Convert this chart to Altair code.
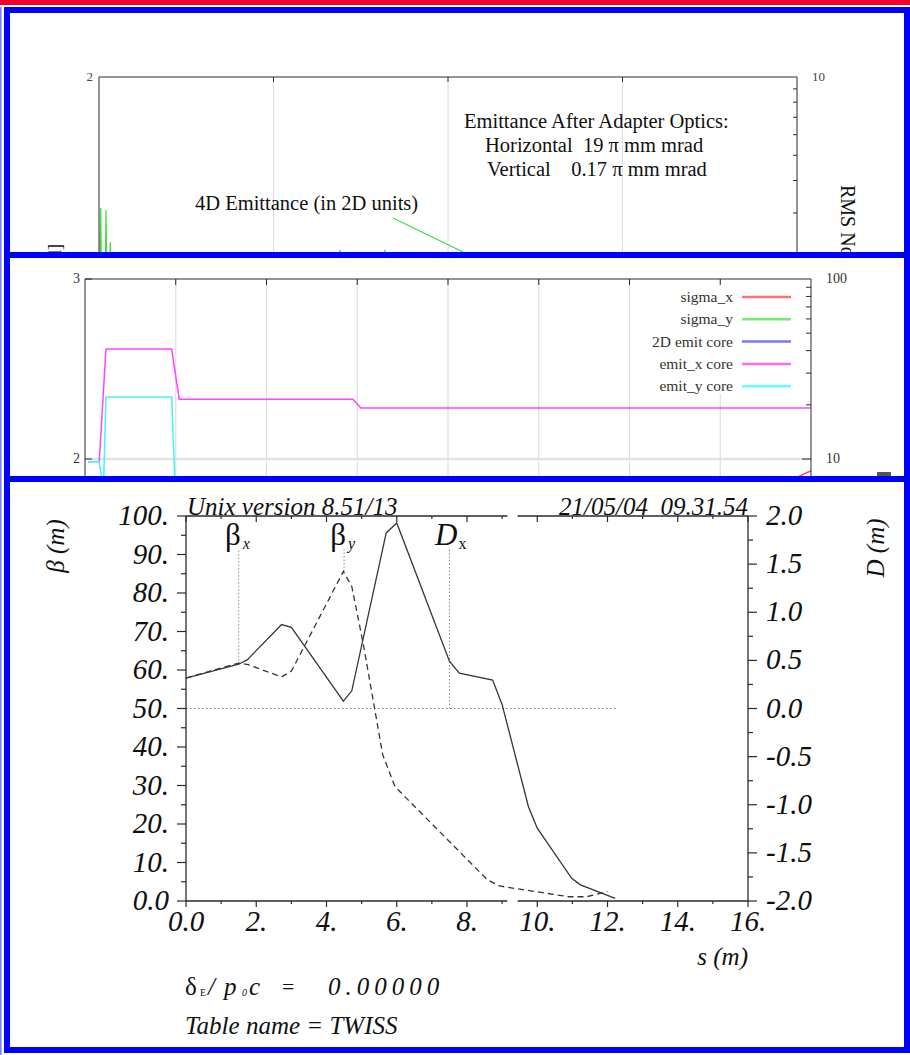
import altair as alt
import pandas as pd

# ======================= chart values =======================
# --- bottom panel: MAD twiss plot ---
S_BETX = [0.0, 1.5, 1.75, 2.72, 3.0, 4.48, 4.72, 5.7, 6.0, 7.5, 7.78, 8.73, 9.0, 9.75, 10.0, 10.98, 11.23, 12.22]
BETX = [57.9, 61.5, 62.7, 71.8, 71.1, 51.9, 54.6, 95.6, 98.2, 62.3, 59.2, 57.4, 51.0, 24.5, 18.9, 5.9, 4.2, 0.7]
S_BETY = [0.0, 1.5, 1.77, 2.72, 3.0, 4.48, 4.72, 5.05, 5.6, 5.95, 8.58, 8.92, 10.9, 11.4, 12.0]
BETY = [57.9, 61.8, 61.4, 58.2, 59.7, 85.6, 81.7, 66.6, 38.0, 29.7, 5.5, 3.9, 1.1, 1.1, 2.5]
S_DX = [0.0, 12.25]
DX = [0.0, 0.0]
MARK_MAIN = ["β", "β", "D"]
MARK_SUB = ["x", "y", "x"]
MARK_S = [1.5, 4.5, 7.5]
MARK_LOW = [61.5, 85.6, 50.0]
MARK_TOP = [91.5, 91.5, 91.5]
S_MAJOR = [0, 2, 4, 6, 8, 10, 12, 14, 16]
S_LABELS = ["0.0", "2.", "4.", "6.", "8.", "10.", "12.", "14.", "16."]
S_MINOR = [1, 3, 5, 7, 9, 11, 13, 15]
FRAME_FROM = [0.0, 9.44]
FRAME_TO = [9.15, 16.0]
BETA_MAJOR = [0, 10, 20, 30, 40, 50, 60, 70, 80, 90, 100]
BETA_LABELS = ["0.0", "10.", "20.", "30.", "40.", "50.", "60.", "70.", "80.", "90.", "100."]
BETA_MINOR = [5, 15, 25, 35, 45, 55, 65, 75, 85, 95]
D_MAJOR = [-2.0, -1.5, -1.0, -0.5, 0.0, 0.5, 1.0, 1.5, 2.0]
D_LABELS = ["-2.0", "-1.5", "-1.0", "-0.5", "0.0", "0.5", "1.0", "1.5", "2.0"]
D_MINOR = [-1.75, -1.25, -0.75, -0.25, 0.25, 0.75, 1.25, 1.75]

# --- middle panel: emittance / sigma plot ---
P2_GRID = [1, 2, 3, 4, 5, 6, 7]
P2_LEFT_LABELS_V = [2, 3]
P2_LEFT_LABELS = ["2", "3"]
P2_RIGHT_LABELS_V = [10, 100]
P2_RIGHT_LABELS = ["10", "100"]
P2_RIGHT_MINOR = [20, 30, 40, 50, 60, 70, 80, 90]
S_EMITX = [0.033, 0.157, 0.231, 0.955, 1.038, 2.952, 3.04, 8.0]
EMITX = [9.66, 9.7, 40.8, 40.8, 21.5, 21.5, 19.2, 19.2]
S_EMITY = [0.033, 0.154, 0.204, 0.231, 0.955, 1.113, 8.0]
EMITY = [9.66, 9.66, 7.0, 22.1, 22.1, 0.17, 0.17]
S_SIGX = [7.5, 7.879, 8.0]
SIGX = [1.80, 1.906, 1.935]
LEGEND_NAMES = ["sigma_x", "sigma_y", "2D emit core", "emit_x core", "emit_y core"]
LEGEND_COLORS = ["#ff7070", "#70ee70", "#7878ff", "#ff66ff", "#66ffff"]

# --- top panel: 4D emittance plot ---
P1_GRID = [1, 2, 3]
P1_RIGHT_MINOR = [3, 4, 5, 6, 7, 8, 9]
S_EMIT4D = [0.003, 0.0097, 0.0143, 0.036, 0.040, 0.0447, 0.0607, 0.0648, 0.0688,
            1.370, 1.381, 1.393, 1.628, 1.639, 1.650, 4.0]
EMIT4D = [0.9, 1.272, 0.9, 0.9, 1.261, 0.9, 0.9, 1.083, 0.9,
          0.9, 1.04, 0.9, 0.9, 1.04, 0.9, 0.9]
ARROW_FROM = (1.685, 1.217)
ARROW_TO = (2.086, 1.028)

# ======================= styles / layout =======================
SERIF = "Liberation Serif"
INK = "#101010"
AX = "#2a2a2a"
LINE = "#363636"
BLUE = "#0000ff"
RED = "#f2002e"
PLOT_COL = {"sigma_x": "#ff4d4d", "emit_x core": "#ff44ff", "emit_y core": "#44f4f4"}

X1 = alt.Scale(domain=[0, 4], range=[99, 797], nice=False, zero=False)
Y1 = alt.Scale(domain=[0, 2], range=[437, 77], nice=False, zero=False)
Y1R = alt.Scale(type="log", domain=[1, 10], range=[337, 77], nice=False)
X2 = alt.Scale(domain=[0, 8], range=[85, 811], nice=False, zero=False)
Y2 = alt.Scale(domain=[2, 3], range=[459, 279], nice=False, zero=False)
Y2R = alt.Scale(type="log", domain=[10, 100], range=[459, 279], nice=False)
X3 = alt.Scale(domain=[0, 16], range=[186, 748], nice=False, zero=False)
Y3 = alt.Scale(domain=[0, 100], range=[901, 516], nice=False, zero=False)
Y3R = alt.Scale(domain=[-2, 2], range=[901, 516], nice=False, zero=False)


def one():
    return pd.DataFrame({"k": [0]})


def props(**kw):
    return {k: v for k, v in kw.items() if v is not None}


def text_at(txt, x, y, size, align="left", baseline="middle", italic=False,
            angle=None, color=INK):
    p = props(align=align, baseline=baseline, fontSize=size, font=SERIF, color=color,
              fontStyle="italic" if italic else None, angle=angle)
    return alt.Chart(pd.DataFrame({"t": [txt]})).mark_text(**p).encode(
        x=alt.value(x), y=alt.value(y), text="t:N")


def seg(x0, y0, x1, y1, color=AX, width=1.0, dash=None):
    p = props(color=color, strokeWidth=width, strokeDash=dash)
    return alt.Chart(one()).mark_rule(**p).encode(
        x=alt.value(x0), y=alt.value(y0), x2=alt.value(x1), y2=alt.value(y1))


def box(x0, y0, x1, y1, color):
    return alt.Chart(one()).mark_rect(color=color).encode(
        x=alt.value(x0), x2=alt.value(x1), y=alt.value(y0), y2=alt.value(y1))


def vrules(vals, sx, y0, y1, color=AX, width=1.0, dash=None):
    p = props(color=color, strokeWidth=width, strokeDash=dash)
    return alt.Chart(pd.DataFrame({"v": vals})).mark_rule(**p).encode(
        x=alt.X("v:Q", scale=sx, axis=None), y=alt.value(y0), y2=alt.value(y1))


def hrules(vals, sy, x0, x1, color=AX, width=1.0, dash=None):
    p = props(color=color, strokeWidth=width, strokeDash=dash)
    return alt.Chart(pd.DataFrame({"v": vals})).mark_rule(**p).encode(
        y=alt.Y("v:Q", scale=sy, axis=None), x=alt.value(x0), x2=alt.value(x1))


def ylabels(vals, labels, sy, x, align, size, italic=False, color=INK):
    p = props(align=align, baseline="middle", fontSize=size, font=SERIF, color=color,
              fontStyle="italic" if italic else None)
    return alt.Chart(pd.DataFrame({"v": vals, "t": labels})).mark_text(**p).encode(
        y=alt.Y("v:Q", scale=sy, axis=None), x=alt.value(x), text="t:N")


def xlabels(vals, labels, sx, y, size, italic=False, color=INK):
    p = props(align="center", baseline="middle", fontSize=size, font=SERIF, color=color,
              fontStyle="italic" if italic else None)
    return alt.Chart(pd.DataFrame({"v": vals, "t": labels})).mark_text(**p).encode(
        x=alt.X("v:Q", scale=sx, axis=None), y=alt.value(y), text="t:N")


def series(xs, ys, sx, sy, color, width=1.3, dash=None):
    p = props(color=color, strokeWidth=width, strokeDash=dash)
    d = pd.DataFrame({"s": xs, "v": ys, "i": list(range(len(xs)))})
    return alt.Chart(d).mark_line(**p).encode(
        x=alt.X("s:Q", scale=sx, axis=None), y=alt.Y("v:Q", scale=sy, axis=None),
        order=alt.Order("i:Q"))


layers = []

# ======================= top panel =======================
layers += [
    vrules(P1_GRID, X1, 77, 260, color="#dcdcdc", width=1),
    vrules(P1_GRID, X1, 77, 82, color=AX),
    series(S_EMIT4D, EMIT4D, X1, Y1, "#3fdc3f", width=1.2),
    alt.Chart(one()).mark_rule(color="#3fdc3f", strokeWidth=1.2).encode(
        x=alt.datum(ARROW_FROM[0], scale=X1, axis=None),
        y=alt.datum(ARROW_FROM[1], scale=Y1, axis=None),
        x2=alt.datum(ARROW_TO[0]), y2=alt.datum(ARROW_TO[1])),
    seg(99, 77, 797, 77), seg(99, 77, 99, 260), seg(797, 77, 797, 260),
    hrules(P1_RIGHT_MINOR, Y1R, 793, 797),
    text_at("2", 93, 77, 13, align="right", color="#444"),
    text_at("10", 812, 77, 13, color="#444"),
    text_at("Emittance After Adapter Optics:", 464, 122, 20.5),
    text_at("Horizontal\u00a0\u00a019 π mm mrad", 485, 146, 20.5),
    text_at("Vertical\u00a0\u00a0\u00a0\u00a00.17 π mm mrad", 487, 170, 20.5),
    text_at("4D Emittance (in 2D units)", 195, 204, 20.5),
    text_at("RMS Normalized Emittance", 847, 185, 20, angle=90),
    text_at("Emittance [mm mrad]", 55, 244, 19, align="right", angle=270),
]

# ======================= middle panel =======================
layers += [
    box(10, 258, 904, 476, "white"),
    vrules(P2_GRID, X2, 279, 480, color="#dedede", width=1.2),
    hrules([2], Y2, 85, 811, color="#e2e2e2", width=2.5),
    box(640, 284, 805, 394, "white"),
    series(S_SIGX, SIGX, X2, Y2, PLOT_COL["sigma_x"], width=1.5),
    series(S_EMITX, EMITX, X2, Y2R, PLOT_COL["emit_x core"], width=1.5),
    series(S_EMITY, EMITY, X2, Y2R, PLOT_COL["emit_y core"], width=1.5),
    vrules(P2_GRID, X2, 279, 285, color=AX),
    seg(85, 279, 811, 279), seg(85, 279, 85, 480), seg(811, 279, 811, 480),
    hrules([2, 3], Y2, 85, 92),
    hrules(P2_RIGHT_MINOR, Y2R, 806, 811),
    hrules([10], Y2R, 802, 811),
    ylabels(P2_LEFT_LABELS_V, P2_LEFT_LABELS, Y2, 80, "right", 14, color="#333"),
    ylabels(P2_RIGHT_LABELS_V, P2_RIGHT_LABELS, Y2R, 826, "left", 14, color="#333"),
    box(877, 472, 891, 476, "#555"),
]
for i, (name, colr) in enumerate(zip(LEGEND_NAMES, LEGEND_COLORS)):
    yy = 297 + i * 22.3
    layers += [seg(742, yy, 791, yy, color=colr, width=2.5),
               text_at(name, 733, yy, 15.5, align="right", color="#333")]

# ======================= bottom panel =======================
layers += [
    box(10, 482, 904, 1047, "white"),
    series(S_DX, DX, X3, Y3R, "#7a7a7a", width=1, dash=[1.5, 2.5]),
    alt.Chart(pd.DataFrame({"s": MARK_S, "lo": MARK_LOW, "hi": MARK_TOP})).mark_rule(
        color="#8a8a8a", strokeWidth=1, strokeDash=[1.5, 2]).encode(
        x=alt.X("s:Q", scale=X3, axis=None),
        y=alt.Y("lo:Q", scale=Y3, axis=None), y2="hi:Q"),
    series(S_BETY, BETY, X3, Y3, LINE, width=1.3, dash=[6, 4]),
    series(S_BETX, BETX, X3, Y3, LINE, width=1.3),
    # frame with the broken top / bottom lines
    alt.Chart(pd.DataFrame({"a": FRAME_FROM, "b": FRAME_TO})).mark_rule(
        color=AX, strokeWidth=1.3).encode(
        x=alt.X("a:Q", scale=X3, axis=None), x2="b:Q", y=alt.value(516)),
    alt.Chart(pd.DataFrame({"a": FRAME_FROM, "b": FRAME_TO})).mark_rule(
        color=AX, strokeWidth=1.3).encode(
        x=alt.X("a:Q", scale=X3, axis=None), x2="b:Q", y=alt.value(901)),
    seg(186, 516, 186, 901, width=1.3), seg(748, 516, 748, 901, width=1.3),
    # ticks
    hrules(BETA_MAJOR, Y3, 177, 186, width=1.2),
    hrules(BETA_MINOR, Y3, 181, 186, width=1.2),
    hrules(D_MAJOR, Y3R, 748, 757, width=1.2),
    hrules(D_MINOR, Y3R, 748, 753, width=1.2),
    vrules(S_MAJOR, X3, 901, 907, width=1.2),
    vrules(S_MINOR, X3, 901, 904, width=1.2),
    vrules(S_MAJOR, X3, 516, 522, width=1.2),
    vrules(S_MINOR, X3, 516, 519, width=1.2),
    # tick labels
    ylabels(BETA_MAJOR, BETA_LABELS, Y3, 169, "right", 29, italic=True),
    ylabels(D_MAJOR, D_LABELS, Y3R, 766, "left", 29, italic=True),
    xlabels(S_MAJOR, S_LABELS, X3, 922, 29, italic=True),
    # marker labels
    alt.Chart(pd.DataFrame({"s": MARK_S[:2], "t": MARK_MAIN[:2]})).mark_text(
        align="right", baseline="alphabetic", fontSize=31, font=SERIF, color=INK, dx=2).encode(
        x=alt.X("s:Q", scale=X3, axis=None), y=alt.value(545), text="t:N"),
    alt.Chart(pd.DataFrame({"s": MARK_S[2:], "t": MARK_MAIN[2:]})).mark_text(
        align="right", baseline="alphabetic", fontSize=31, font=SERIF, fontStyle="italic",
        color=INK, dx=8).encode(
        x=alt.X("s:Q", scale=X3, axis=None), y=alt.value(545), text="t:N"),
    alt.Chart(pd.DataFrame({"s": MARK_S[:2], "t": MARK_SUB[:2]})).mark_text(
        align="left", baseline="alphabetic", fontSize=16, font=SERIF, fontStyle="italic",
        color=INK, dx=4).encode(
        x=alt.X("s:Q", scale=X3, axis=None), y=alt.value(549), text="t:N"),
    alt.Chart(pd.DataFrame({"s": MARK_S[2:], "t": MARK_SUB[2:]})).mark_text(
        align="left", baseline="alphabetic", fontSize=16, font=SERIF, color=INK, dx=9).encode(
        x=alt.X("s:Q", scale=X3, axis=None), y=alt.value(549), text="t:N"),
    # texts
    text_at("Unix version 8.51/13", 187, 515, 25, baseline="alphabetic", italic=True),
    text_at("21/05/04\u00a0\u00a009.31.54", 748, 515, 25, align="right",
            baseline="alphabetic", italic=True),
    text_at("β  (m)", 56, 546, 25, align="center", italic=True, angle=270),
    text_at("D  (m)", 876, 548, 25, align="center", italic=True, angle=270),
    text_at("s (m)", 748, 957, 25, align="right", italic=True),
    text_at("δ", 185, 987, 25),
    text_at("E", 200, 993, 10),
    text_at("/", 208, 987, 25, italic=True),
    text_at("p", 224, 987, 25, italic=True),
    text_at("0", 242, 993, 10, italic=True),
    text_at("c", 249, 987, 25, italic=True),
    text_at("=", 282, 987, 22),
    text_at("0\u2009.\u20090\u20090\u20090\u20090\u20090", 328, 987, 25, italic=True),
    text_at("Table name = TWISS", 185, 1026, 25, italic=True),
]

# ======================= window frames =======================
layers += [
    box(0, 0, 910, 5, RED),
    box(0, 7, 1.6, 1055, "#7d7dff"),
    box(4, 7, 10, 1053, BLUE),
    box(904, 7, 910, 1053, BLUE),
    box(4, 7, 910, 13, BLUE),
    box(4, 252, 910, 258, BLUE),
    box(4, 476, 910, 482, BLUE),
    box(4, 1047, 910, 1053, BLUE),
]

chart = (
    alt.layer(*layers)
    .resolve_scale(x="independent", y="independent")
    .properties(width=910, height=1055, autosize=alt.AutoSizeParams(type="none"),
                padding=0, background="white")
    .configure_view(stroke=None)
)

chart.save("out.html", embed_options={"renderer": "svg", "actions": False})
